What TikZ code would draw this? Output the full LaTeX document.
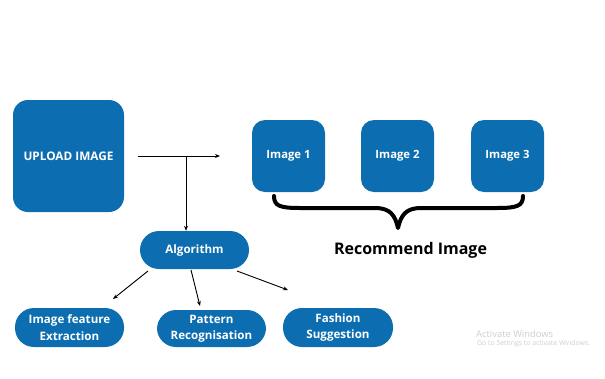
\documentclass[tikz,border=0pt]{standalone}
\usepackage{fontspec}
\setmainfont{Open Sans}
\usetikzlibrary{arrows.meta}
\definecolor{boxblue}{RGB}{12,110,176}
\definecolor{wm}{RGB}{205,205,205}
\tikzset{
  bluebox/.style={fill=boxblue, draw=none, rounded corners=15pt, text=white, font=\bfseries\fontsize{11.8}{14}\selectfont, align=center, inner sep=0pt},
  pillbox/.style={fill=boxblue, draw=none, rounded corners=19pt, text=white, font=\bfseries\fontsize{11.6}{16.5}\selectfont, align=center, inner sep=0pt, minimum height=38pt},
  conn/.style={line width=0.9pt, -{Stealth[length=5pt,width=4pt]}},
}
\begin{document}
\begin{tikzpicture}[x=1pt,y=-1pt]
\useasboundingbox (0,0) rectangle (605,378);
\node[bluebox, minimum width=111pt, minimum height=112pt] (up) at (68.5,156) {UPLOAD IMAGE};
\node[bluebox, minimum width=73pt, minimum height=72pt, rounded corners=13pt, font=\bfseries\fontsize{11.3}{14}\selectfont] (i1) at (288.5,156) {Image 1};
\node[bluebox, minimum width=73pt, minimum height=72pt, rounded corners=13pt, font=\bfseries\fontsize{11.3}{14}\selectfont] (i2) at (397.5,156) {Image 2};
\node[bluebox, minimum width=73pt, minimum height=72pt, rounded corners=13pt, font=\bfseries\fontsize{11.3}{14}\selectfont] (i3) at (507.5,156) {Image 3};
\node[pillbox, minimum width=109pt] (alg) at (194.5,250) {Algorithm};
\node[pillbox, minimum width=109pt, minimum height=39pt] (fe) at (69.5,327.5) {Image feature\\Extraction};
\node[pillbox, minimum width=109pt, minimum height=37pt] (pr) at (211.5,328.5) {Pattern\\Recognisation};
\node[pillbox, minimum width=110pt, minimum height=39pt] (fs) at (338,327.5) {Fashion\\Suggestion};
\node[font=\bfseries\fontsize{16}{18}\selectfont] (rec) at (410.5,250) {Recommend Image};
% connectors
\coordinate (a0) at (138,156);
\coordinate (a1) at (220,156);
\coordinate (j) at (186,156);
\draw[conn] (a0) -- (a1);
\draw[conn] (j) -- (j |- alg.north);
\coordinate (e1s) at (148,271);
\coordinate (e1e) at (113,299);
\coordinate (e2s) at (191,270);
\coordinate (e2e) at (200,306);
\coordinate (e3s) at (237,271);
\coordinate (e3e) at (288,290);
\draw[conn] (e1s) -- (e1e);
\draw[conn] (e2s) -- (e2e);
\draw[conn] (e3s) -- (e3e);
% brace
\coordinate (bl) at (274,196);
\coordinate (br) at (523,196);
\coordinate (bt) at (398,228);
\draw[line width=4pt, line cap=round, line join=round]
  (bl) .. controls (274,206) and (280,208) .. (300,208)
  -- (375,208) .. controls (390,208) and (395,215) .. (bt)
  .. controls (401,215) and (406,208) .. (421,208)
  -- (497,208) .. controls (517,208) and (523,206) .. (br);
% watermark
\node[text=wm, font=\fontsize{9.4}{11}\selectfont, anchor=west, inner sep=0pt] (w1) at (476,334) {Activate Windows};
\node[text=wm, font=\fontsize{6.9}{8}\selectfont, anchor=west, inner sep=0pt] (w2) at (477,344) {Go to Settings to activate Windows.};
\end{tikzpicture}
\end{document}
